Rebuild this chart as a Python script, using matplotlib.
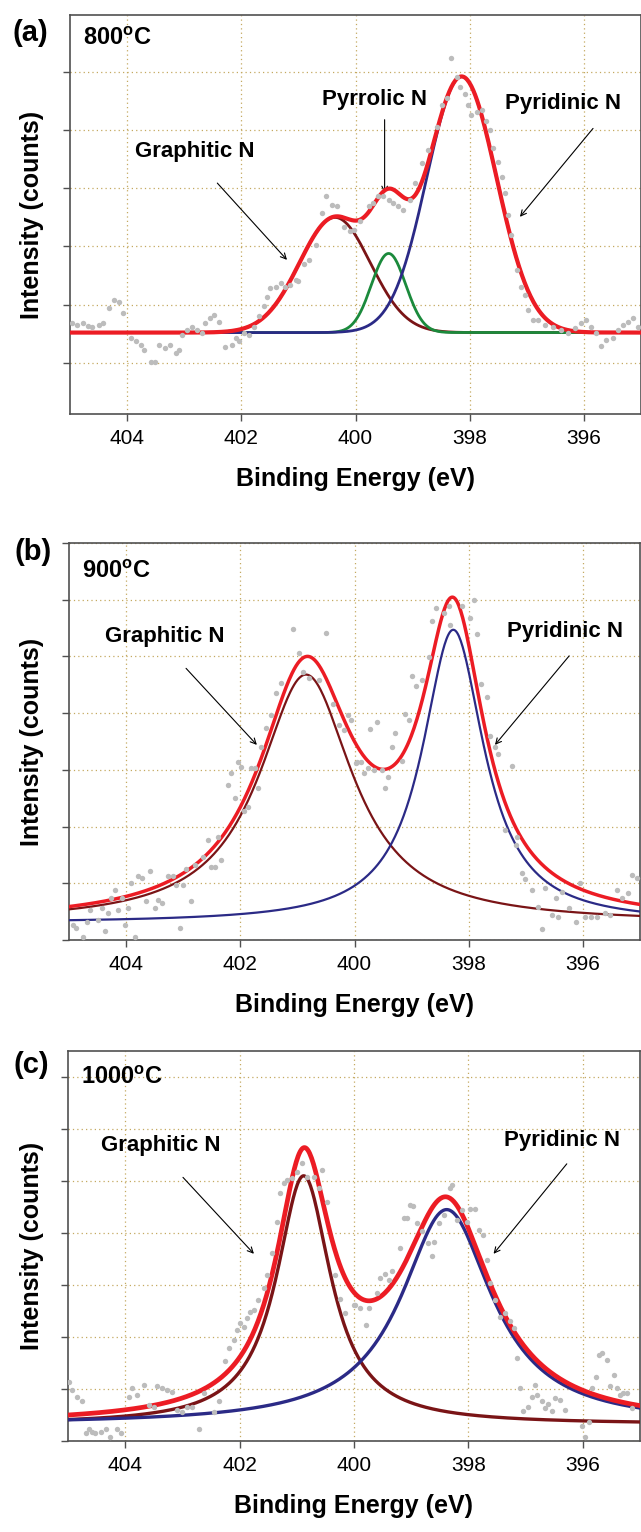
import numpy as np
import matplotlib
matplotlib.use("Agg")
import matplotlib.pyplot as plt
from matplotlib.ticker import MultipleLocator

plt.rcParams['font.family'] = ['Liberation Sans', 'DejaVu Sans']
plt.rcParams['mathtext.fontset'] = 'custom'
plt.rcParams['mathtext.rm'] = 'Liberation Sans'
plt.rcParams['mathtext.bf'] = 'Liberation Sans:bold'

# ---- data (binding energy in eV, intensity in arb. units) ----
XTICKS = [404, 402, 400, 398, 396]
TEMPS = ["800", "900", "1000"]
PANEL_TAGS = ["(a)", "(b)", "(c)"]

# (a) 800 C: raw points
A_BE = [404.96, 404.87, 404.78, 404.69, 404.61, 404.49, 404.43, 404.31, 404.23, 404.14,
        404.07, 403.94, 403.85, 403.76, 403.70, 403.59, 403.51, 403.44, 403.33, 403.24,
        403.15, 403.09, 403.03, 402.95, 402.86, 402.77, 402.69, 402.63, 402.54, 402.48,
        402.39, 402.28, 402.16, 402.10, 402.04, 401.96, 401.87, 401.78, 401.69, 401.61,
        401.55, 401.49, 401.40, 401.31, 401.23, 401.14, 401.05, 401.00, 400.91, 400.82,
        400.70, 400.59, 400.52, 400.41, 400.33, 400.21, 400.09, 400.02,
        399.92, 399.77, 399.69, 399.60, 399.51, 399.42, 399.34, 399.25, 399.16, 399.05,
        398.96, 398.84, 398.73, 398.58, 398.49, 398.40, 398.32, 398.23, 398.17, 398.08,
        398.03, 397.97, 397.88, 397.79, 397.71, 397.65, 397.59, 397.50, 397.44, 397.38,
        397.33, 397.27, 397.18, 397.10, 397.04, 396.98, 396.89, 396.80, 396.69, 396.54,
        396.40, 396.28, 396.16, 396.05, 395.96, 395.87, 395.78, 395.70, 395.61, 395.49,
        395.41, 395.32, 395.23, 395.14, 395.06]
A_INT = [1.68, 1.65, 1.68, 1.64, 1.61, 1.65, 1.69, 1.94, 2.08, 2.05,
         1.85, 1.42, 1.37, 1.31, 1.22, 1.02, 1.02, 1.31, 1.25, 1.31,
         1.17, 1.22, 1.48, 1.57, 1.62, 1.57, 1.51, 1.68, 1.77, 1.83,
         1.71, 1.28, 1.31, 1.42, 1.37, 1.51, 1.48, 1.62, 1.80, 1.97,
         2.14, 2.28, 2.31, 2.38, 2.30, 2.34, 2.43, 2.41, 2.70, 2.77,
         3.03, 3.57, 3.86, 3.71, 3.69, 3.34, 3.26, 3.28,
         3.43, 3.69, 3.74, 3.86, 3.86, 3.80, 3.74, 3.69, 3.63, 3.80,
         4.09, 4.43, 4.66, 5.06, 5.43, 5.55, 6.24, 5.92, 5.75, 5.63,
         5.43, 5.26, 5.32, 5.35, 5.15, 5.00, 4.69, 4.46, 4.20, 3.92,
         3.54, 3.20, 2.60, 2.31, 2.17, 1.91, 1.74, 1.74, 1.65, 1.62,
         1.57, 1.51, 1.59, 1.68, 1.74, 1.62, 1.51, 1.29, 1.40, 1.42,
         1.57, 1.65, 1.71, 1.77, 1.62]
# (a) fitted gaussian components: graphitic, pyrrolic, pyridinic
A_CENTER = [400.36, 399.42, 398.14]
A_HEIGHT = [1.98, 1.36, 4.40]
A_SIGMA = [0.62, 0.30, 0.61]
A_BASE = 1.52

# (b) 900 C: raw points
B_BE = [404.93, 404.87, 404.75, 404.69, 404.64, 404.49, 404.43, 404.37, 404.31, 404.26,
        404.20, 404.14, 404.08, 404.02, 403.97, 403.91, 403.85, 403.79, 403.73, 403.66,
        403.59, 403.50, 403.44, 403.38, 403.27, 403.18, 403.12, 403.06, 403.00, 402.95,
        402.86, 402.80, 402.65, 402.57, 402.51, 402.45, 402.39, 402.33, 402.22, 402.16,
        402.10, 402.04, 401.99, 401.93, 401.87, 401.81, 401.75, 401.69, 401.64, 401.55,
        401.46, 401.38, 401.29, 401.08, 400.97, 400.91, 400.79, 400.62, 400.50, 400.38,
        400.27, 400.18, 400.12, 400.06, 399.98,
        399.95, 399.89, 399.83, 399.77, 399.72, 399.66, 399.60, 399.51, 399.46, 399.41,
        399.35, 399.29, 399.17, 399.12, 399.05, 398.99, 398.93, 398.81, 398.70, 398.64,
        398.58, 398.43, 398.35, 398.32, 398.11, 397.97, 397.91, 397.85, 397.79, 397.68,
        397.62, 397.54, 397.49, 397.37, 397.25, 397.18, 397.15, 397.06, 397.02, 396.89,
        396.78, 396.72, 396.66, 396.54, 396.47, 396.43, 396.36, 396.24, 396.12, 396.05,
        395.96, 395.86, 395.76, 395.61, 395.52, 395.41, 395.31, 395.21, 395.14, 395.06]
B_INT = [0.27, 0.21, 0.06, 0.32, 0.53, 0.35, 0.56, 0.15, 0.47, 0.74,
         0.89, 0.53, 0.74, 0.27, 0.56, 1.00, 0.06, 1.13, 1.09, 0.68,
         1.21, 0.56, 0.71, 0.65, 1.13, 1.13, 0.97, 0.21, 0.97, 1.26,
         0.68, 1.32, 1.47, 1.76, 1.29, 1.29, 1.82, 1.41, 2.73, 2.94,
         2.50, 3.13, 3.05, 2.27, 2.35, 3.03, 3.03, 2.68, 3.41, 3.73,
         3.97, 4.35, 4.53, 5.48, 5.06, 4.73, 4.62, 4.59, 5.41, 4.17,
         3.79, 3.70, 3.97, 3.88, 3.12,
         3.13, 3.13, 2.95, 3.03, 3.72, 3.00, 3.85, 3.00, 2.68, 2.88,
         3.41, 3.65, 3.16, 3.99, 3.88, 4.66, 4.47, 4.59, 4.99, 5.63,
         5.85, 5.76, 5.89, 5.56, 5.89, 5.67, 6.00, 5.39, 4.52, 4.28,
         3.59, 3.40, 3.28, 1.94, 3.06, 1.68, 1.82, 1.18, 1.07, 0.88,
         0.59, 0.19, 0.91, 0.44, 0.74, 0.41, 0.84, 0.56, 0.32, 1.00,
         0.41, 0.41, 0.41, 0.47, 0.44, 0.88, 0.74, 0.82, 1.15, 1.09]
# (b) fitted lorentzian components: graphitic, pyridinic
B_CENTER = [400.85, 398.27]
B_HEIGHT = [4.38, 5.17]
B_HWHM = [1.00, 0.66]
B_BASE = 0.30

# (c) 1000 C: raw points
C_BE = [404.98, 404.93, 404.84, 404.75, 404.69, 404.64, 404.58, 404.52, 404.43, 404.34,
        404.26, 404.14, 404.08, 403.94, 403.88, 403.79, 403.67, 403.59, 403.50, 403.44,
        403.35, 403.27, 403.18, 403.09, 403.00, 402.92, 402.83, 402.71, 402.63, 402.45,
        402.36, 402.25, 402.19, 402.10, 402.04, 401.99, 401.93, 401.87, 401.81, 401.75,
        401.67, 401.58, 401.52, 401.43, 401.35, 401.29, 401.23, 401.17, 401.08, 401.00,
        400.91, 400.82, 400.70, 400.62, 400.56, 400.47, 400.33, 400.24, 400.15, 400.00,
        399.98, 399.89, 399.79, 399.74, 399.60, 399.54, 399.45, 399.39, 399.34, 399.19,
        399.13, 399.08, 399.02, 398.96, 398.90, 398.81, 398.70, 398.64, 398.61, 398.52,
        398.43, 398.32, 398.29, 398.20, 398.11, 398.03, 397.97, 397.88, 397.82, 397.74,
        397.68, 397.62, 397.53, 397.44, 397.36, 397.27, 397.21, 397.15, 397.10, 397.04,
        396.95, 396.89, 396.84, 396.80, 396.72, 396.66, 396.60, 396.54, 396.48, 396.40,
        396.31, 396.02, 395.96, 395.90, 395.84, 395.77, 395.71, 395.66, 395.58, 395.52,
        395.46, 395.41, 395.35, 395.29, 395.23, 395.14]
C_INT = [1.14, 0.98, 0.85, 0.76, 0.15, 0.24, 0.18, 0.15, 0.18, 0.24,
         0.08, 0.24, 0.15, 0.85, 1.01, 0.89, 1.08, 0.69, 0.66, 1.05,
         1.01, 0.98, 0.95, 0.60, 0.56, 0.66, 0.66, 0.24, 0.92, 0.56,
         0.76, 1.53, 1.78, 1.94, 2.14, 2.26, 2.20, 2.36, 2.49, 2.52,
         2.71, 2.94, 3.19, 3.61, 4.22, 4.76, 4.96, 5.02, 5.05, 5.18,
         5.34, 5.08, 5.08, 4.86, 5.21, 4.60, 3.19, 2.74, 2.46, 2.62,
         2.62, 2.55, 2.23, 2.55, 2.84, 3.13, 3.22, 3.10, 3.26, 3.71,
         4.28, 4.28, 4.54, 4.51, 4.19, 4.03, 3.80, 3.55, 3.83, 4.19,
         4.35, 4.86, 4.92, 4.25, 4.44, 4.22, 4.47, 4.47, 4.06, 3.96,
         3.48, 3.03, 2.71, 2.39, 2.46, 2.30, 2.17, 1.59, 1.01, 0.57,
         0.66, 0.85, 1.08, 0.89, 0.76, 0.63, 0.72, 0.57, 0.82, 0.79,
         0.60, 0.28, 0.08, 0.37, 1.01, 1.24, 1.65, 1.69, 1.56, 1.05,
         1.27, 1.01, 0.89, 0.92, 0.92, 0.63]
# (c) fitted lorentzian components: graphitic, pyridinic
C_CENTER = [400.88, 398.38]
C_HEIGHT = [4.78, 4.13]
C_HWHM = [0.58, 0.97]
C_BASE = 0.32

RED = '#ec1c24'
BLUE = '#2b2a86'
BROWN = '#7a1416'
GREEN = '#1b8a3c'
DOT = '#bcbcbc'


def gauss(x, c, h, s):
    return h * np.exp(-0.5 * ((x - c) / s) ** 2)


def lorentz(x, c, h, g):
    return h / (1.0 + ((x - c) / g) ** 2)


W, H = 641, 1532
fig = plt.figure(figsize=(W / 100, H / 100), dpi=100)

# pixel boxes (left, top, right, bottom) of the three axes
boxes = [(70, 15, 641, 414), (69, 543, 640, 940), (68, 1051, 640, 1441)]
ylims = [(0.12, 6.98), (0.0, 7.0), (0.0, 7.5)]
tag_pos = [(30, 33), (33, 552), (31, 1065)]
temp_y = [39, 571, 1077]

be = np.linspace(395, 405, 600)
axes = []
for i, (l, t, r, b) in enumerate(boxes):
    ax = fig.add_axes([l / W, 1 - b / H, (r - l) / W, (b - t) / H])
    ax.set_xlim(405, 395)
    ax.set_ylim(*ylims[i])
    ax.set_xticks(XTICKS)
    ax.set_xticklabels([str(v) for v in XTICKS])
    ax.yaxis.set_major_locator(MultipleLocator(1))
    ax.tick_params(axis='y', labelleft=False)
    ax.tick_params(direction='out', length=5, width=1.0, color='#505050',
                   labelsize=15, pad=6)
    for sp in ax.spines.values():
        sp.set_color('#505050')
        sp.set_linewidth(1.2)
    ax.set_axisbelow(True)
    ax.grid(True, linestyle=(0, (1, 2.5)), color='#c4a960', linewidth=0.9)
    ax.set_xlabel('Binding Energy (eV)', fontsize=18, fontweight='bold')
    ax.xaxis.set_label_coords(0.5, -53 / (b - t))
    ax.set_ylabel('Intensity (counts)', fontsize=18, fontweight='bold')
    ax.yaxis.set_label_coords((44 - l) / (r - l), 0.5)
    ax.text(0.022, 1 - (temp_y[i] - t) / (b - t),
            TEMPS[i] + r'$^{\mathbf{o}}$C', transform=ax.transAxes,
            fontsize=17, fontweight='bold', va='center', ha='left')
    fig.text(tag_pos[i][0] / W, 1 - tag_pos[i][1] / H, PANEL_TAGS[i],
             fontsize=21, fontweight='bold', ha='center', va='center')
    axes.append(ax)

arrow = dict(arrowstyle='->', lw=0.8, color='black', shrinkA=0, shrinkB=0)
tfont = dict(fontsize=16, fontweight='bold', ha='center', va='center')

# ---- (a) ----
ax = axes[0]
comps = [gauss(be, c, h, s) for c, h, s in zip(A_CENTER, A_HEIGHT, A_SIGMA)]
ax.plot(be, A_BASE + comps[0], color=BROWN, lw=2.0, zorder=3)
ax.plot(be, A_BASE + comps[1], color=GREEN, lw=2.0, zorder=3)
ax.plot(be, A_BASE + comps[2], color=BLUE, lw=2.0, zorder=3)
ax.plot(be, A_BASE + sum(comps), color=RED, lw=3.0, zorder=4)
ax.scatter(A_BE, A_INT, s=15, color=DOT, linewidths=0, zorder=5)
ax.text(402.82, 4.64, 'Graphitic N', **tfont)
ax.annotate('', xy=(401.20, 2.77), xytext=(402.42, 4.09), arrowprops=arrow)
ax.text(399.67, 5.53, 'Pyrrolic N', **tfont)
ax.annotate('', xy=(399.49, 3.92), xytext=(399.49, 5.18), arrowprops=arrow)
ax.text(396.36, 5.46, 'Pyridinic N', **tfont)
ax.annotate('', xy=(397.12, 3.51), xytext=(395.84, 5.03), arrowprops=arrow)

# ---- (b) ----
ax = axes[1]
comps = [lorentz(be, c, h, g) for c, h, g in zip(B_CENTER, B_HEIGHT, B_HWHM)]
ax.plot(be, B_BASE + comps[0], color=BROWN, lw=1.6, zorder=3)
ax.plot(be, B_BASE + comps[1], color=BLUE, lw=1.6, zorder=3)
ax.plot(be, B_BASE + sum(comps), color=RED, lw=2.5, zorder=4)
ax.scatter(B_BE, B_INT, s=15, color=DOT, linewidths=0, zorder=5)
ax.text(403.32, 5.36, 'Graphitic N', **tfont)
ax.annotate('', xy=(401.71, 3.44), xytext=(402.95, 4.79), arrowprops=arrow)
ax.text(396.31, 5.44, 'Pyridinic N', **tfont)
ax.annotate('', xy=(397.54, 3.44), xytext=(396.24, 5.01), arrowprops=arrow)

# ---- (c) ----
ax = axes[2]
comps = [lorentz(be, c, h, g) for c, h, g in zip(C_CENTER, C_HEIGHT, C_HWHM)]
ax.plot(be, C_BASE + comps[0], color=BROWN, lw=2.4, zorder=3)
ax.plot(be, C_BASE + comps[1], color=BLUE, lw=2.4, zorder=3)
ax.plot(be, C_BASE + sum(comps), color=RED, lw=3.4, zorder=4)
ax.scatter(C_BE, C_INT, s=15, color=DOT, linewidths=0, zorder=5)
ax.text(403.37, 5.68, 'Graphitic N', **tfont)
ax.annotate('', xy=(401.75, 3.60), xytext=(402.99, 5.07), arrowprops=arrow)
ax.text(396.36, 5.78, 'Pyridinic N', **tfont)
ax.annotate('', xy=(397.56, 3.60), xytext=(396.28, 5.33), arrowprops=arrow)

fig.savefig('out.png', dpi=100)
